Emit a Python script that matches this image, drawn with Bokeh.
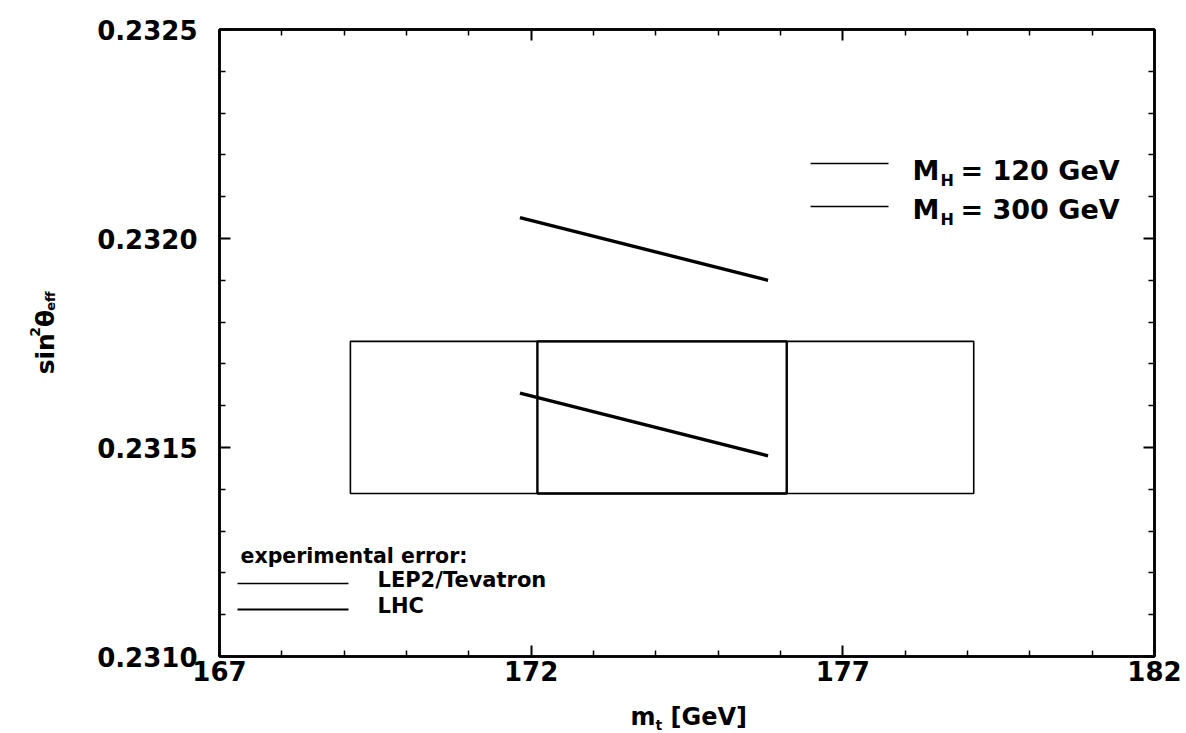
import math
from bokeh.plotting import figure
from bokeh.layouts import row, column
from bokeh.models import (FixedTicker, LinearAxis, Label, Arrow, PrintfTickFormatter,
                          CustomJSTickFormatter, Range1d)
from bokeh.core.properties import value
from bokeh.embed import file_html
from bokeh.resources import INLINE

# ---------------- data ----------------
mt_range = [167, 182]
sw_range = [0.2310, 0.2325]
x_major = [167, 172, 177, 182]
x_tick_labels = ["167", "172", "177", "182"]
x_minor = [168, 169, 170, 171, 173, 174, 175, 176, 178, 179, 180, 181]
y_major = [0.2310, 0.2315, 0.2320, 0.2325]
y_tick_labels = ["0.2310", "0.2315", "0.2320", "0.2325"]
y_minor = [0.2311, 0.2312, 0.2313, 0.2314, 0.2316, 0.2317, 0.2318, 0.2319,
           0.2321, 0.2322, 0.2323, 0.2324]

# SM prediction lines (sin^2 theta_eff vs m_t)
mt_pred = [171.82, 175.80]
sw_mh120 = [0.23163, 0.23148]
sw_mh300 = [0.23205, 0.23190]

# experimental error boxes
mt_central = 174.1
sw_central = 0.231572
err_mt_lep2 = 5.0
err_mt_lhc = 2.0
err_sw = 0.000182

# ---------------- page layout (pixels) ----------------
W, H = 1186, 733
LW = 80            # left strip holding the y-axis title
MH = 700           # height of the top row (main figure)
FL, FR, FT, FB = 219, 1154, 29, 656   # frame in page pixels
FONT = "DejaVu Sans"
BASE_K = 0.36      # measured shift of the rendered baseline, fraction of font size

p = figure(width=W - LW, height=MH, x_range=mt_range, y_range=sw_range,
           output_backend="svg", toolbar_location=None, title=None,
           min_border_left=FL - LW, min_border_right=W - FR,
           min_border_top=FT, min_border_bottom=MH - FB)
p.grid.visible = False
p.background_fill_color = "white"
p.border_fill_color = "white"
p.outline_line_color = "black"
p.outline_line_width = 2.5

def style_axis(ax, show_labels):
    ax.axis_line_width = 2.5
    ax.axis_line_color = "black"
    ax.major_tick_in = 11
    ax.major_tick_out = 0
    ax.minor_tick_in = 6
    ax.minor_tick_out = 0
    ax.major_tick_line_width = 2
    ax.minor_tick_line_width = 1.5
    ax.major_tick_line_color = "black"
    ax.minor_tick_line_color = "black"
    ax.major_label_text_font = FONT
    ax.major_label_text_font_style = "bold"
    ax.major_label_text_font_size = "26px" if show_labels else "0px"
    ax.major_label_text_color = "black"

p.xaxis.ticker = FixedTicker(ticks=x_major, minor_ticks=x_minor)
p.yaxis.ticker = FixedTicker(ticks=y_major, minor_ticks=y_minor)
p.yaxis.formatter = PrintfTickFormatter(format="%.4f")
p.xaxis.major_label_overrides = {int(v): s for v, s in zip(x_major, x_tick_labels)}
p.yaxis.major_label_overrides = {float(v): s for v, s in zip(y_major, y_tick_labels)}
style_axis(p.xaxis[0], True)
style_axis(p.yaxis[0], True)
p.xaxis.major_label_standoff = 4
p.yaxis.major_label_standoff = 22

empty = CustomJSTickFormatter(code="return ''")
top_ax = LinearAxis(ticker=FixedTicker(ticks=x_major, minor_ticks=x_minor), formatter=empty)
right_ax = LinearAxis(ticker=FixedTicker(ticks=y_major, minor_ticks=y_minor), formatter=empty)
style_axis(top_ax, False)
style_axis(right_ax, False)
p.add_layout(top_ax, "above")
p.add_layout(right_ax, "right")

# ---------------- glyphs ----------------
p.quad(left=[mt_central - err_mt_lep2], right=[mt_central + err_mt_lep2],
       bottom=[sw_central - err_sw], top=[sw_central + err_sw],
       fill_color=None, line_color="black", line_width=1.6)
p.quad(left=[mt_central - err_mt_lhc], right=[mt_central + err_mt_lhc],
       bottom=[sw_central - err_sw], top=[sw_central + err_sw],
       fill_color=None, line_color="black", line_width=2.4)
p.line(mt_pred, sw_mh120, line_color="black", line_width=3.4)
p.line(mt_pred, sw_mh300, line_color="black", line_width=3.4)

# ---------------- in-frame legends (page px -> frame screen units) ----------------
def sx(cx):
    return cx - FL

def sy(cy):
    return FB - cy

def txt(s, cx, cy, size, bold=True):
    # cy is the wanted baseline in page pixels
    p.add_layout(Label(x=sx(cx), y=sy(cy) + BASE_K * size, x_units="screen", y_units="screen",
                       text=s, text_font=FONT, text_font_size=f"{size}px",
                       text_font_style="bold" if bold else "normal",
                       text_color="black", text_align="left",
                       text_baseline="alphabetic"))

def seg(cx0, cx1, cy, lw):
    p.add_layout(Arrow(x_start=sx(cx0), y_start=sy(cy), x_end=sx(cx1), y_end=sy(cy),
                       start_units="screen", end_units="screen", start=None, end=None,
                       line_color="black", line_width=lw))

for cy_line, base, mh in [(163, 180, "120"), (206, 219, "300")]:
    seg(810, 888, cy_line, 1.4)
    txt("M", 912, base, 27)
    txt("H", 940, base + 6, 16)
    txt(f"= {mh} GeV", 960, base, 27)

txt("experimental error:", 240, 563, 20.5)
seg(237, 348, 583, 1.3)
txt("LEP2/Tevatron", 377, 587, 21)
seg(237, 348, 609, 2.2)
txt("LHC", 377, 613, 21)

# ---------------- axis-title strips ----------------
def strip(w, h):
    f = figure(width=w, height=h, x_range=Range1d(0, w), y_range=Range1d(0, h),
               output_backend="svg", toolbar_location=None, title=None,
               x_axis_type=None, y_axis_type=None, min_border=0)
    f.grid.visible = False
    f.outline_line_color = None
    f.background_fill_color = "white"
    f.border_fill_color = "white"
    return f

def stext(f, s, x, y, size, angle=0.0):
    f.text(x=[x], y=[y], text=[s], angle=angle, text_font=value(FONT),
           text_font_size=value(f"{size}px"), text_font_style="bold",
           text_color="black", text_align="left", text_baseline="alphabetic")

# y-axis title: sin^2 theta_eff (rotated); strip spans page y 0..MH
ys = strip(LW, MH)
A = math.pi / 2
BX = 45
stext(ys, "sin", BX, MH - 385, 25, A)
stext(ys, "2", BX - 11, MH - 343, 14, A)
stext(ys, "θ", BX, MH - 332, 25, A)
stext(ys, "eff", BX + 5, MH - 314, 13, A)

# x-axis title: m_t [GeV]; strip spans page y MH..H, full width (y up)
xs = strip(W, H - MH)
stext(xs, "m", 630, H - 725 + BASE_K * 24, 24)
stext(xs, "t", 655, H - 730 + BASE_K * 14, 14)
stext(xs, "[GeV]", 670, H - 725 + BASE_K * 24, 24)

layout = column(row(ys, p, spacing=0), xs, spacing=0)
open("out.html", "w").write(file_html(layout, INLINE))
